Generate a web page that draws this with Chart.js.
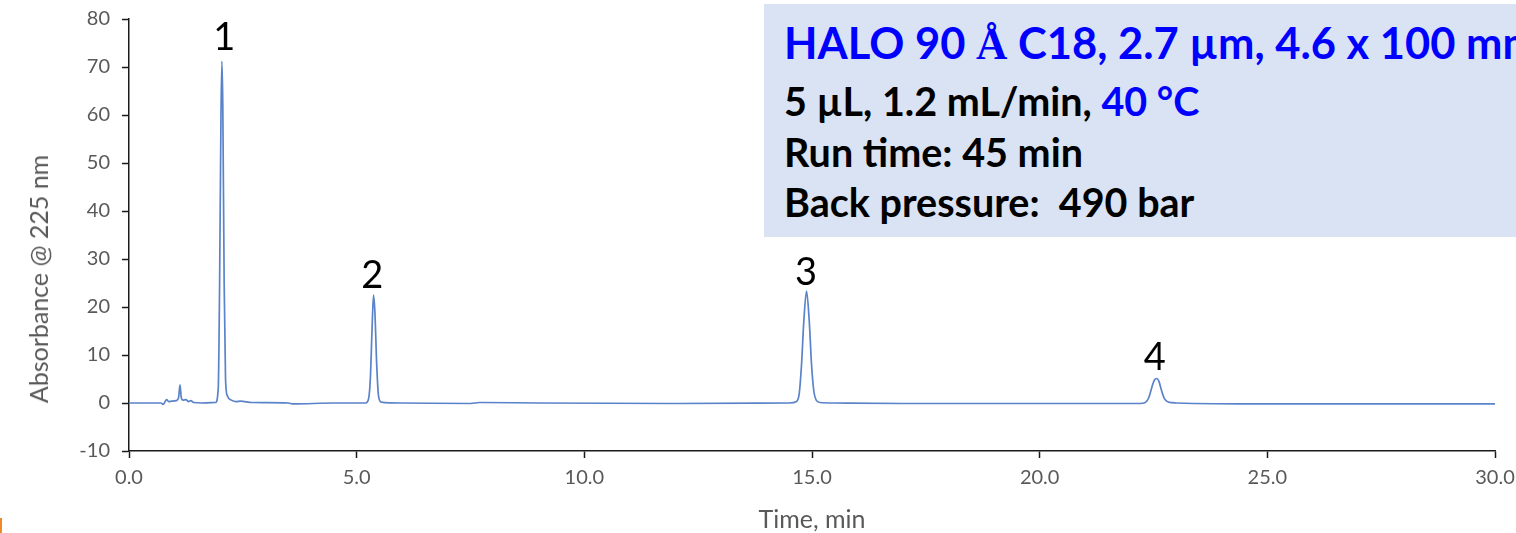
<!DOCTYPE html>
<html lang="en">
<head>
    <meta charset="UTF-8">
    <title>HALO C18 chromatogram</title>
    <script src="https://cdn.jsdelivr.net/npm/chart.js"></script>
    <style>
        body {
            margin: 0;
            background: #fff;
            font-family: Lato, sans-serif;
            overflow: hidden;
        }
        .wrap {
            position: relative;
            width: 1516px;
            height: 533px;
            overflow: hidden;
        }
        #chromChart {
            position: absolute;
            left: 0;
            top: 0;
        }
        .info-box {
            position: absolute;
            left: 764px;
            top: 4px;
            width: 760px;
            height: 233px;
            background: #dae3f3;
        }
        .info-line {
            position: absolute;
            left: 20px;
            white-space: nowrap;
            font-weight: bold;
            line-height: 1;
            color: #000;
            font-size: 39.5px;
        }
        .blue { color: #0000ff; }
        .serif { font-family: "Liberation Serif", serif; }
        .y-title {
            position: absolute;
            left: 38px;
            top: 279px;
            transform: translate(-50%, -50%) rotate(-90deg);
            white-space: nowrap;
            font-size: 25px;
            color: #595959;
        }
        .corner-mark {
            position: absolute;
            left: 0;
            top: 518px;
            width: 2px;
            height: 15px;
            background: #f08a24;
        }
    </style>
</head>
<body>
<div class="wrap">
    <canvas id="chromChart" width="1516" height="533"></canvas>
    <div class="y-title">Absorbance @ 225 nm</div>
    <div class="info-box">
        <div class="info-line blue" style="top:17px; font-size:43.5px;">HALO 90 <span class="serif">Å</span> C18, 2.7 µm, 4.6 x 100 mm</div>
        <div class="info-line" style="top:77px;">5 µL, 1.2 mL/min, <span class="blue">40 °C</span></div>
        <div class="info-line" style="top:128px;">Run time: 45 min</div>
        <div class="info-line" style="top:178px;">Back pressure:&nbsp; 490 bar</div>
    </div>
    <div class="corner-mark"></div>
</div>

<script>
// retention time (min) and absorbance
const times = [0, 0.5, 0.70, 0.75, 0.80, 0.83, 0.87, 0.94, 1.04, 1.09, 1.12, 1.15, 1.19, 1.25, 1.31, 1.36, 1.42, 1.6,
    1.9, 1.96, 1.99, 2.02, 2.04, 2.06, 2.09, 2.12, 2.16, 2.25, 2.35, 2.45, 2.7, 3.5, 3.6, 4.5,
    5.2, 5.26, 5.30, 5.34, 5.37, 5.40, 5.44, 5.48, 5.54, 6.0, 7.5, 7.7, 9, 12,
    14.5, 14.66, 14.72, 14.77, 14.82, 14.88, 14.94, 14.99, 15.04, 15.10, 15.18, 15.5, 17, 20,
    22.2, 22.32, 22.40, 22.47, 22.52, 22.57, 22.62, 22.67, 22.74, 22.82, 23.0, 25, 28, 30];
const absorbance = [0, 0, 0, -0.3, 0.4, 0.7, 0.3, 0.4, 0.5, 1.2, 3.8, 1.0, 0.6, 0.7, 0.3, 0.5, 0.1, 0,
    0.1, 3, 25, 60, 71.2, 62, 25, 5, 1.5, 0.6, 0.3, 0.4, 0.1, 0, -0.2, 0,
    0, 0.8, 5, 16, 22.5, 19, 8, 1.5, 0.2, 0, -0.1, 0.1, 0, -0.1,
    0, 0.3, 2, 8, 17, 23.3, 17, 8, 2.5, 0.5, 0.1, 0, -0.1, -0.1,
    -0.1, 0.1, 1.2, 3.5, 4.8, 5.1, 4.5, 2.8, 0.9, 0.2, 0, -0.2, -0.2, -0.2];

// peak numbers and where they sit (time, absorbance of the label baseline)
const peakNames = ['1', '2', '3', '4'];
const peakLabelTimes = [2.09, 5.34, 14.87, 22.53];
const peakLabelLevels = [73.5, 24.0, 24.6, 6.9];

const tickFont = { family: 'Lato', size: 20 };

const peakLabels = {
    id: 'peakLabels',
    afterDatasetsDraw(chart) {
        const { ctx, scales: { x, y } } = chart;
        ctx.save();
        ctx.font = '38px Lato';
        ctx.fillStyle = '#000';
        ctx.textAlign = 'center';
        ctx.textBaseline = 'alphabetic';
        peakNames.forEach((name, i) => {
            ctx.fillText(name, x.getPixelForValue(peakLabelTimes[i]), y.getPixelForValue(peakLabelLevels[i]));
        });
        ctx.restore();
    }
};

new Chart(document.getElementById('chromChart'), {
    type: 'line',
    data: {
        datasets: [{
            data: times.map((t, i) => ({ x: t, y: absorbance[i] })),
            borderColor: '#5a83c9',
            borderWidth: 1.7,
            pointRadius: 0,
            cubicInterpolationMode: 'monotone',
            fill: false
        }]
    },
    options: {
        responsive: false,
        animation: false,
        layout: { padding: { top: 19, right: 21, left: 0, bottom: 0 } },
        plugins: {
            legend: { display: false },
            tooltip: { enabled: false }
        },
        scales: {
            x: {
                type: 'linear',
                min: 0,
                max: 30,
                afterFit: scale => {
                    scale.height = 82;
                    scale.paddingLeft = 0;
                    scale.paddingRight = 0;
                },
                border: { display: true, color: '#1a1a1a', width: 1.5 },
                grid: { drawOnChartArea: false, drawTicks: true, tickLength: 7, tickColor: '#1a1a1a', tickWidth: 1.5 },
                ticks: {
                    stepSize: 5,
                    maxRotation: 0,
                    padding: 8,
                    color: '#595959',
                    font: tickFont,
                    callback: v => v.toFixed(1)
                },
                title: {
                    display: true,
                    text: 'Time, min',
                    color: '#595959',
                    font: { family: 'Lato', size: 25, lineHeight: 1 },
                    padding: { top: 0, bottom: 0.5 }
                }
            },
            y: {
                min: -10,
                max: 80,
                afterFit: scale => {
                    scale.width = 129;
                    scale.paddingTop = 0;
                    scale.paddingBottom = 0;
                },
                border: { display: true, color: '#1a1a1a', width: 1.5 },
                grid: { drawOnChartArea: false, drawTicks: true, tickLength: 7, tickColor: '#1a1a1a', tickWidth: 1.5 },
                ticks: {
                    stepSize: 10,
                    padding: 12,
                    color: '#595959',
                    font: tickFont
                }
            }
        }
    },
    plugins: [peakLabels]
});
</script>
</body>
</html>
